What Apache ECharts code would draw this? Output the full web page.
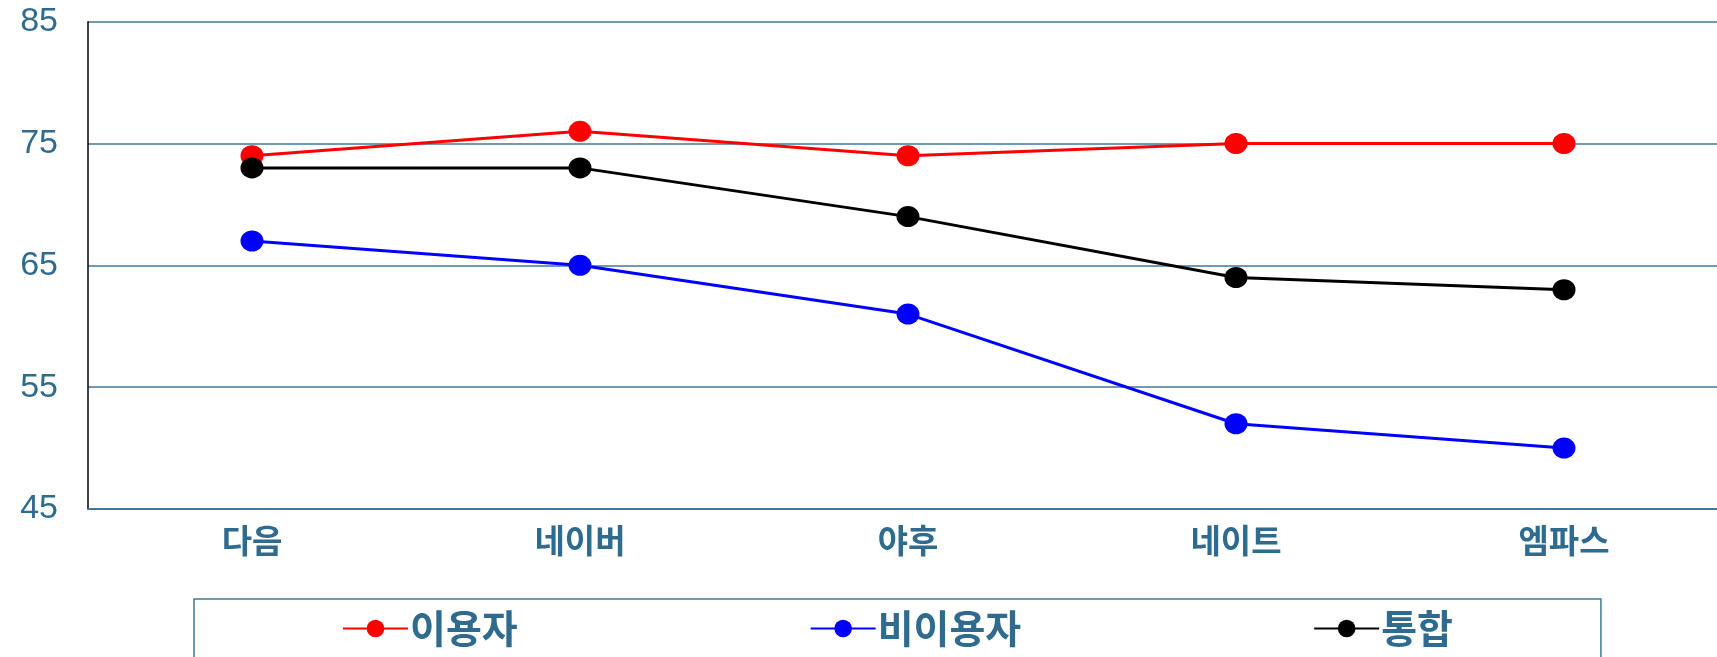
<!DOCTYPE html>
<html>
<head>
<meta charset="utf-8">
<script src="https://cdn.jsdelivr.net/npm/echarts@6/dist/echarts.min.js"></script>
<style>
  html, body { margin: 0; padding: 0; background: #fff; overflow: hidden; }
  /* the plot in the reference runs past the right edge of the picture */
  #chart { width: 1728px; height: 657px; }
</style>
</head>
<body>
<div id="chart"></div>
<script>
var portals = ['다음', '네이버', '야후', '네이트', '엠파스'];
var users = [74, 76, 74, 75, 75];
var nonUsers = [67, 65, 61, 52, 50];
var combined = [73, 73, 69, 64, 63];
var seriesNames = ['이용자', '비이용자', '통합'];
var seriesColors = ['#ff0000', '#0000ff', '#000000'];

var textBlue = '#2f6a8f';
var lineBlue = '#41779b';
var krFont = '"Noto Sans CJK KR", sans-serif';

var chart = echarts.init(document.getElementById('chart'));

function makeSeries(name, data, color) {
    return {
        name: name,
        type: 'line',
        data: data,
        symbol: 'circle',
        symbolSize: [23, 21],
        lineStyle: { color: color, width: 3 },
        itemStyle: { color: color },
        animation: false
    };
}

var option = {
    backgroundColor: '#ffffff',
    grid: {
        left: 88,
        right: 0,
        top: 21.7,
        bottom: 148
    },
    legend: {
        data: seriesNames,
        left: 194,
        top: 599,
        itemGap: 292,
        itemWidth: 65,
        itemHeight: 22,
        padding: [10, 148, 40, 148],
        borderColor: lineBlue,
        borderWidth: 1.5,
        textStyle: {
            color: textBlue,
            fontFamily: krFont,
            fontWeight: 'bold',
            fontSize: 39,
            padding: [0, 0, 0, -3]
        }
    },
    xAxis: {
        type: 'category',
        data: portals,
        boundaryGap: true,
        axisLine: { lineStyle: { color: lineBlue, width: 2 } },
        axisTick: { inside: true, length: 9, lineStyle: { color: lineBlue, width: 1 } },
        axisLabel: {
            color: textBlue,
            fontFamily: krFont,
            fontWeight: 'bold',
            fontSize: 33,
            margin: 15
        }
    },
    yAxis: {
        type: 'value',
        min: 45,
        max: 85,
        interval: 10,
        axisLine: { show: true, lineStyle: { color: '#000000', width: 1.5 } },
        axisTick: { show: false },
        axisLabel: {
            color: textBlue,
            fontFamily: '"Liberation Sans", Arial, sans-serif',
            fontSize: 34,
            margin: 30
        },
        splitLine: { lineStyle: { color: lineBlue, width: 1.5 } }
    },
    series: [
        makeSeries(seriesNames[0], users, seriesColors[0]),
        makeSeries(seriesNames[1], nonUsers, seriesColors[1]),
        makeSeries(seriesNames[2], combined, seriesColors[2])
    ]
};

chart.setOption(option);
</script>
</body>
</html>
